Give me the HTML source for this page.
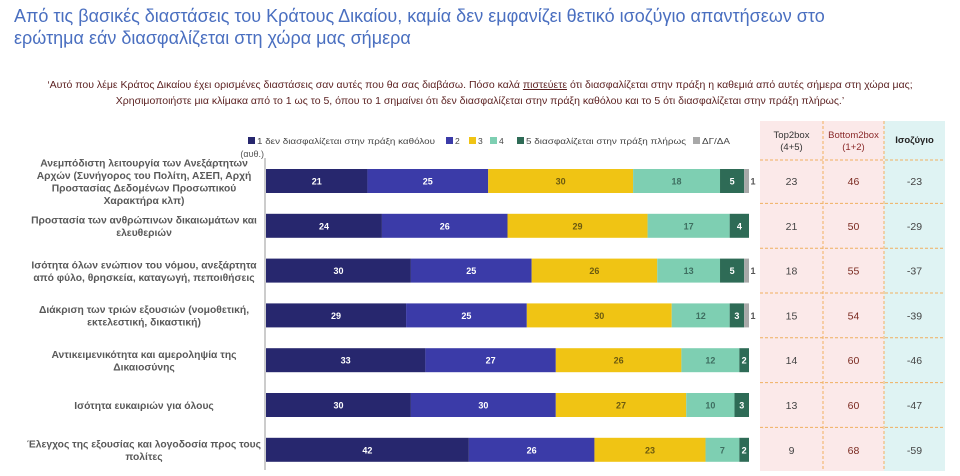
<!DOCTYPE html>
<html><head><meta charset="utf-8"><style>
body{margin:0;width:960px;height:476px;background:#fff;font-family:"Liberation Sans",sans-serif;overflow:hidden;position:relative}
.t{position:absolute;left:14px;top:5px;font-size:18px;color:#4a6fc0;line-height:22px}
.q{position:absolute;left:0;width:960px;text-align:center;font-size:10.5px;color:#5a1f1f;line-height:16px}
</style></head><body>
<div class="t">Από τις βασικές διαστάσεις του Κράτους Δικαίου, καμία δεν εμφανίζει θετικό ισοζύγιο απαντήσεων στο<br>ερώτημα εάν διασφαλίζεται στη χώρα μας σήμερα</div>
<div class="q" style="top:77px">‘Αυτό που λέμε Κράτος Δικαίου έχει ορισμένες διαστάσεις σαν αυτές που θα σας διαβάσω. Πόσο καλά <u>πιστεύετε</u> ότι διασφαλίζεται στην πράξη η καθεμιά από αυτές σήμερα στη χώρα μας;<br>Χρησιμοποιήστε μια κλίμακα από το 1 ως το 5, όπου το 1 σημαίνει ότι δεν διασφαλίζεται στην πράξη καθόλου και το 5 ότι διασφαλίζεται στην πράξη πλήρως.’</div>
<svg id="c" width="960" height="476" style="position:absolute;left:0;top:0"></svg>
<script>
const categories=["Ανεμπόδιστη λειτουργία των Ανεξάρτητων|Αρχών (Συνήγορος του Πολίτη, ΑΣΕΠ, Αρχή|Προστασίας Δεδομένων Προσωπικού|Χαρακτήρα κλπ)","Προστασία των ανθρώπινων δικαιωμάτων και|ελευθεριών","Ισότητα όλων ενώπιον του νόμου, ανεξάρτητα|από φύλο, θρησκεία, καταγωγή, πεποιθήσεις","Διάκριση των τριών εξουσιών (νομοθετική,|εκτελεστική, δικαστική)","Αντικειμενικότητα και αμεροληψία της|Δικαιοσύνης","Ισότητα ευκαιριών για όλους","Έλεγχος της εξουσίας και λογοδοσία προς τους|πολίτες"];
const s1=[21,24,30,29,33,30,42];
const s2=[25,26,25,25,27,30,26];
const s3=[30,29,26,30,26,27,23];
const s4=[18,17,13,12,12,10,7];
const s5=[5,4,5,3,2,3,2];
const sDK=[1,0,1,1,0,0,0];
const top2=[23,21,18,15,14,13,9];
const bottom2=[46,50,55,54,60,60,68];
const balance=[-23,-29,-37,-39,-46,-47,-59];
const seriesNames=["1  δεν διασφαλίζεται στην πράξη καθόλου","2","3","4","5 διασφαλίζεται στην πράξη πλήρως","ΔΓ/ΔΑ"];
const colors=["#27276e","#3b3ba8","#f0c414","#7ecfb2","#2e6b56","#a8a8a8"];
const txtCol=["#fff","#fff","#6b5a10","#3e6e60","#fff","#555"];
const NS="http://www.w3.org/2000/svg";
const svg=document.getElementById('c');
function el(t,a,p){const e=document.createElementNS(NS,t);for(const k in a)e.setAttribute(k,a[k]);(p||svg).appendChild(e);return e;}
const x0=266,pxPer=4.83,rowY0=181,rowStep=44.8,barH=24;
const xs=v=>x0+v*pxPer;
const ys=i=>rowY0+i*rowStep;
const series=[s1,s2,s3,s4,s5,sDK];
const tx=[760,823,884,945],ty0=121,ty1=471,hdr=160;
let r=el('rect',{x:tx[0],y:ty0,width:tx[2]-tx[0],height:ty1-ty0,fill:'#fbe9e9'});

r=el('rect',{x:tx[2],y:ty0,width:tx[3]-tx[2],height:ty1-ty0,fill:'#dff3f3'});

[tx[1],tx[2]].forEach(x=>{const l=el('line',{x1:x,y1:ty0,x2:x,y2:ty1,stroke:'#f0b060','stroke-dasharray':'3,2'});});
for(let i=0;i<=categories.length-1;i++){const y=(i==0?hdr:(ys(i)-rowStep/2));const l=el('line',{x1:tx[0],y1:y,x2:tx[3],y2:y,stroke:'#f0b060','stroke-dasharray':'3,2'});}
const hd=[["Top2box","(4+5)"],["Bottom2box","(1+2)"],["Ισοζύγιο"]];
const hc=['#333','#8a2a2a','#222'];
hd.forEach((h,j)=>{const cx=(tx[j]+tx[j+1])/2;const t=el('text',{x:cx,y:h.length>1?138:143,'text-anchor':'middle','font-size':9.5,fill:hc[j],'font-weight':j==2?'bold':'normal'});h.forEach((s,k)=>{const ts=el('tspan',{x:cx,dy:k?12:0},t);ts.textContent=s;});});
let ax=el('line',{x1:x0-1,y1:158,x2:x0-1,y2:470,stroke:'#bbb','stroke-width':1.5});

let au=el('text',{x:x0-2,y:157,'text-anchor':'end','font-size':9,fill:'#555'});au.textContent='(αυθ.)';

const lx=[257,455,478,499,526,702],lw=[178,0,0,0,160,28],ly=144;
seriesNames.forEach((n,j)=>{const g=el('g',{});el('rect',{x:lx[j]-9,y:ly-7,width:7,height:7,fill:colors[j]},g);const a={x:lx[j],y:ly,'font-size':8.5,fill:'#444'};if(lw[j]){a.textLength=lw[j];a.lengthAdjust='spacingAndGlyphs';}const t=el('text',a,g);t.textContent=n;});
categories.forEach((c,i)=>{
  const yc=ys(i);let acc=0;
  const lines=c.split('|');
  const lt=el('text',{'text-anchor':'middle','font-size':10.3,fill:'#595959','font-weight':'bold'});
  
  const lh=12.5,startY=yc-(lines.length-1)*lh/2+4;
  lines.forEach((s,k)=>{const ts=el('tspan',{x:144,y:startY+k*lh},lt);ts.textContent=s;});
  series.forEach((sv,j)=>{const v=sv[i];if(!v)return;
    const b=el('rect',{x:xs(acc),y:yc-barH/2,width:v*pxPer,height:barH,fill:colors[j]});
    
    const t=el('text',{x:j==5?xs(acc)+v*pxPer+4:xs(acc)+v*pxPer/2,y:yc+3.5,'text-anchor':'middle','font-size':9,'font-weight':'bold',fill:txtCol[j]});
    
    t.textContent=v;acc+=v;});
  [top2[i],bottom2[i],balance[i]].forEach((v,j)=>{const t=el('text',{x:(tx[j]+tx[j+1])/2,y:yc+4,'text-anchor':'middle','font-size':10.5,fill:j==1?'#7a2a20':'#444'});t.textContent=v;});
});
</script>
</body></html>
